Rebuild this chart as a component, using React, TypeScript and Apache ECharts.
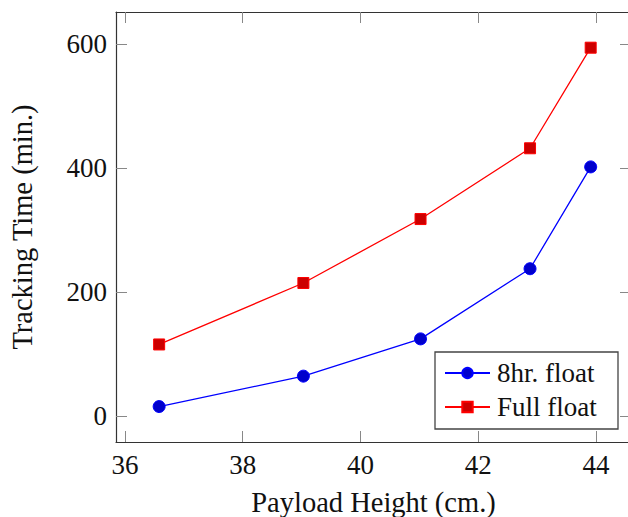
import React, { useEffect, useRef } from "react";
import * as echarts from "echarts";

const xValues = [36.58, 39.03, 41.02, 42.88, 43.91];
const hr8Float = [16, 65, 125, 238, 402];
const fullFloat = [116, 215, 318, 432, 594];
const xTicks = [36, 38, 40, 42, 44];
const yTicks = [0, 200, 400, 600];
const seriesNames = ["8hr. float", "Full float"];

const FONT = "Liberation Serif";
const FS = 27;
const FS_NAME = 28.5;

export default function App() {
  const ref = useRef<HTMLDivElement>(null);
  useEffect(() => {
    if (!ref.current) return;
    const chart = echarts.init(ref.current, undefined, { renderer: "svg" });
    const spine = { show: true, onZero: false, lineStyle: { color: "#333", width: 1.2 } };
    const tick = (vals: number[]) => ({
      show: true,
      inside: true,
      length: 11,
      customValues: vals,
      lineStyle: { color: "#888", width: 1 },
    });
    const xMin = 35.847;
    const xMax = 44.595;
    const yMin = -41.1;
    const yMax = 651.5;
    chart.setOption({
      animation: false,
      backgroundColor: "#fff",
      grid: {
        left: 116,
        top: 12,
        width: 515,
        height: 430,
        containLabel: false,
        outerBoundsMode: "none",
      },
      xAxis: [
        {
          type: "value",
          position: "bottom",
          min: xMin,
          max: xMax,
          axisLine: spine,
          axisTick: tick(xTicks),
          axisLabel: { customValues: xTicks, margin: 9, fontSize: FS, fontFamily: FONT, color: "#111" },
          splitLine: { show: false },
          name: "Payload Height (cm.)",
          nameLocation: "middle",
          nameGap: 46,
          nameTextStyle: { fontSize: FS_NAME, fontFamily: FONT, color: "#111" },
        },
        {
          type: "value",
          position: "top",
          min: xMin,
          max: xMax,
          axisLine: spine,
          axisTick: tick(xTicks),
          axisLabel: { show: false },
          splitLine: { show: false },
        },
      ],
      yAxis: [
        {
          type: "value",
          position: "left",
          min: yMin,
          max: yMax,
          axisLine: spine,
          axisTick: tick(yTicks),
          axisLabel: { customValues: yTicks, margin: 9, fontSize: FS, fontFamily: FONT, color: "#111" },
          splitLine: { show: false },
          name: "Tracking Time (min.)",
          nameLocation: "middle",
          nameGap: 79,
          nameRotate: 90,
          nameTextStyle: { fontSize: FS_NAME, fontFamily: FONT, color: "#111" },
        },
        {
          type: "value",
          position: "right",
          min: yMin,
          max: yMax,
          axisLine: { show: false },
          axisTick: tick(yTicks),
          axisLabel: { show: false },
          splitLine: { show: false },
        },
      ],
      legend: {
        orient: "vertical",
        left: 435,
        top: 352,
        padding: [6, 9, 7, 9],
        itemWidth: 45,
        itemHeight: 13,
        itemGap: 4,
        textStyle: { fontSize: FS, fontFamily: FONT, color: "#111", lineHeight: 30, padding: [0, 0, 0, 2] },
        data: seriesNames,
      },
      graphic: [
        {
          type: "rect",
          shape: { x: 435, y: 352, width: 183, height: 77 },
          style: { fill: "none", stroke: "#444", lineWidth: 1.3 },
          z: 100,
        },
      ],
      series: [
        {
          name: seriesNames[0],
          type: "line",
          xAxisIndex: 0,
          yAxisIndex: 0,
          data: xValues.map((x, i) => [x, hr8Float[i]]),
          symbol: "circle",
          symbolSize: 12,
          lineStyle: { color: "#0000ff", width: 1.3 },
          itemStyle: { color: "#0000cc", borderColor: "#0000ff", borderWidth: 1 },
        },
        {
          name: seriesNames[1],
          type: "line",
          xAxisIndex: 0,
          yAxisIndex: 0,
          data: xValues.map((x, i) => [x, fullFloat[i]]),
          symbol: "rect",
          symbolSize: 11,
          lineStyle: { color: "#ff0000", width: 1.3 },
          itemStyle: { color: "#cc0000", borderColor: "#ff0000", borderWidth: 1 },
        },
      ],
    });
    return () => chart.dispose();
  }, []);
  return (
    <div
      ref={ref}
      style={{ position: "fixed", left: 0, top: 0, width: 640, height: 517 }}
    />
  );
}
